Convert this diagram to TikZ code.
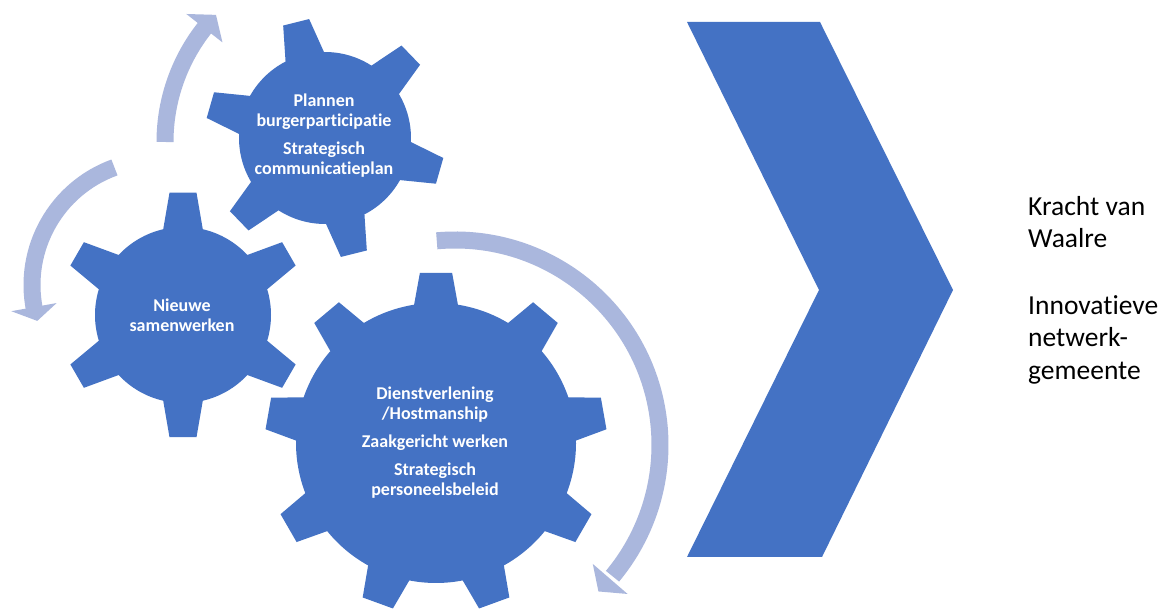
\documentclass[tikz,border=0pt]{standalone}
\usepackage{fontspec}
\setmainfont{Carlito}[Ligatures=NoCommon]
\definecolor{gearblue}{HTML}{4472C4}
\definecolor{arrowc}{RGB}{170,183,221}
% #1 cx, #2 cy, #3 n, #4 n-1, #5 body r, #6 outer r, #7 rotation, #8 half angle base, #9 half angle tip
\newcommand\mygear[9]{%
  \fill[gearblue, shift={(#1,#2)}] (#7-#8:#5)
    \foreach \i [evaluate=\i as \a using {#7+\i*360/#3}] in {0,...,#4} {
      -- ({\a-#9}:#6) -- ({\a+#9}:#6) -- ({\a+#8}:#5)
      arc[start angle=\a+#8, end angle=\a+360/#3-#8, radius=#5]
    } -- cycle;
}
% #1 cx, #2 cy, #3 R, #4 start, #5 shaft end, #6 head base, #7 tip
\newcommand\myarrow[7]{%
  \begin{scope}[shift={(#1,#2)}]
    \draw[arrowc, line width=17pt] (#4:#3) arc[start angle=#4, end angle=#5, radius=#3];
    \fill[arrowc] (#6:{#3-23}) -- (#7:#3) -- (#6:{#3+23}) -- cycle;
  \end{scope}}
\begin{document}
\begin{tikzpicture}[x=1pt, y=1pt,
  gtext/.style={text=white, align=center, inner sep=0pt,
    font=\bfseries\fontsize{18}{20}\selectfont}]
\fill[white] (0,0) rectangle (1169,612);
\useasboundingbox (0,0) rectangle (1169,612);

% circular arrows
\myarrow{349}{470}{184}{180}{140.8}{141.8}{136.3}
\myarrow{157}{327}{125}{109.9}{191.2}{190.2}{196.7}
\myarrow{455}{167}{205}{95.1}{-39.8}{-40.8}{-45.6}

% gears
\mygear{325}{474}{6}{5}{86}{120}{104}{13.3}{6.4}
\mygear{183}{297}{6}{5}{88}{123}{90}{13}{6.3}
\mygear{436}{169}{9}{8}{140}{171}{90}{9}{5.4}

\node[gtext] (t1) at (324,476) {Plannen\\burgerparticipatie\\[8pt]Strategisch\\communicatieplan};
\node[gtext] (t2) at (182,297) {Nieuwe\\samenwerken};
\node[gtext] (t3) at (435,169.5) {Dienstverlening\\/Hostmanship\\[8pt]Zaakgericht werken\\[8pt]Strategisch\\personeelsbeleid};

% chevron
\fill[gearblue] (687,590) -- (820,590) -- (953,322) -- (822,55) -- (687,55) -- (819,322) -- cycle;

\node[anchor=north west, inner sep=0pt, align=left,
  font=\fontsize{27.5}{32.5}\selectfont] (out) at (1028,416)
  {Kracht van\\Waalre\\[34pt]Innovatieve\\netwerk-\\gemeente};
\end{tikzpicture}
\end{document}
